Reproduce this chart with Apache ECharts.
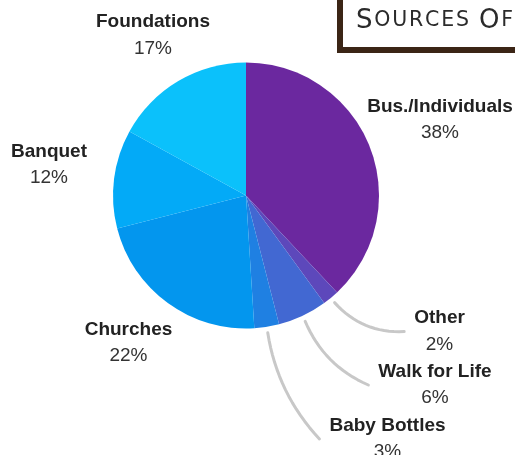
<!DOCTYPE html>
<html>
<head>
<meta charset="utf-8">
<script src="https://cdn.jsdelivr.net/npm/echarts@6/dist/echarts.min.js"></script>
<style>
  html, body { margin: 0; padding: 0; background: #fff; }
  #chart { width: 515px; height: 455px; }
</style>
</head>
<body>
<div id="chart"></div>
<script>
  // slices, clockwise from 12 o'clock
  const categories = ['Bus./Individuals', 'Other', 'Walk for Life', 'Baby Bottles', 'Churches', 'Banquet', 'Foundations'];
  const values = [38, 2, 6, 3, 22, 12, 17];
  const colors = ['#6b289f', '#5d48bb', '#4268d2', '#1f80e2', '#0396ee', '#03aaf7', '#0bc1fb'];
  // small slices get a curved leader line
  const withLine = ['Other', 'Walk for Life', 'Baby Bottles'];
  // where each label block sits (centre of text)
  const labelSpots = {
    'Bus./Individuals': [440, 120],
    'Other': [439.5, 331.5],
    'Walk for Life': [435, 385],
    'Baby Bottles': [387.5, 439],
    'Churches': [128.5, 343],
    'Banquet': [49, 165],
    'Foundations': [153, 35.5]
  };
  const titleText = 'Sources of';

  const lineGap = 10; // space between leader line end and label text
  const lineBow = 9;  // how much the leader line sags

  const chart = echarts.init(document.getElementById('chart'));

  const pieCenter = [246, 195.5];
  const pieData = categories.map((name, i) => ({
    name: name,
    value: values[i],
    itemStyle: { color: colors[i] }
  }));

  // small caps: first letter of each word big, the rest small, a bit spaced
  const titleRich = titleText.split(' ').map(word =>
    word.split('').map((ch, j) => '{' + (j === 0 ? 'b' : 's') + '|' + ch.toUpperCase() + '}').join('')
  ).join('{s| }');

  // quadratic curve from a to b, bowed to the lower-left side
  function bowedLine(a, b) {
    const dx = b[0] - a[0];
    const dy = b[1] - a[1];
    const len = Math.sqrt(dx * dx + dy * dy);
    const c = [
      (a[0] + b[0]) / 2 - dy / len * lineBow * 2,
      (a[1] + b[1]) / 2 + dx / len * lineBow * 2
    ];
    const pts = [];
    for (let k = 0; k <= 16; k++) {
      const t = k / 16;
      const u = 1 - t;
      pts.push([
        u * u * a[0] + 2 * u * t * c[0] + t * t * b[0],
        u * u * a[1] + 2 * u * t * c[1] + t * t * b[1]
      ]);
    }
    return pts;
  }

  const option = {
    animation: false,
    graphic: [
      {
        type: 'rect',
        shape: { x: 340, y: -20, width: 200, height: 70 },
        style: { fill: '#fff', stroke: '#3b2516', lineWidth: 6 }
      },
      {
        type: 'text',
        left: 356,
        top: 8,
        style: {
          text: titleRich,
          rich: {
            b: { fontSize: 26, fontFamily: 'DejaVu Sans', fill: '#2b2b2b', padding: [0, 0.9] },
            s: { fontSize: 20.5, fontFamily: 'DejaVu Sans', fill: '#2b2b2b', padding: [0, 0.9] }
          }
        }
      }
    ],
    series: [
      {
        // the visible pie
        type: 'pie',
        center: pieCenter,
        radius: [0, 133],
        startAngle: 90,
        clockwise: true,
        silent: true,
        itemStyle: { borderWidth: 0 },
        label: { show: false },
        labelLine: { show: false },
        data: pieData
      },
      {
        // a slightly larger, invisible pie that carries the labels so the
        // leader lines start a little off the edge
        type: 'pie',
        center: pieCenter,
        radius: [0, 139],
        startAngle: 90,
        clockwise: true,
        silent: true,
        percentPrecision: 0,
        avoidLabelOverlap: false,
        itemStyle: { color: 'rgba(0,0,0,0)', borderWidth: 0 },
        label: {
          show: true,
          position: 'outside',
          formatter: '{n|{b}}\n{p|{d}%}',
          align: 'center',
          rich: {
            n: { fontSize: 19, fontWeight: 'bold', fontFamily: 'Liberation Sans', color: '#222', lineHeight: 26.5, align: 'center' },
            p: { fontSize: 19, fontFamily: 'Liberation Sans', color: '#333', lineHeight: 26.5, align: 'center' }
          }
        },
        labelLine: {
          smooth: false,
          length: 15,
          length2: 8,
          lineStyle: { color: '#c8c8c8', width: 3, cap: 'round', join: 'round' }
        },
        labelLayout: function (params) {
          const name = categories[params.dataIndex];
          const spot = labelSpots[name];
          const out = { x: spot[0], y: spot[1], align: 'center', verticalAlign: 'middle' };
          if (withLine.indexOf(name) >= 0 && params.labelLinePoints) {
            // from the slice edge to just left of the label
            const start = params.labelLinePoints[0].slice();
            const end = [spot[0] - params.labelRect.width / 2 - lineGap, spot[1]];
            out.labelLinePoints = bowedLine(start, end);
          }
          return out;
        },
        data: categories.map((name, i) => ({
          name: name,
          value: values[i],
          labelLine: { show: withLine.indexOf(name) >= 0 }
        }))
      }
    ]
  };

  chart.setOption(option);
</script>
</body>
</html>
